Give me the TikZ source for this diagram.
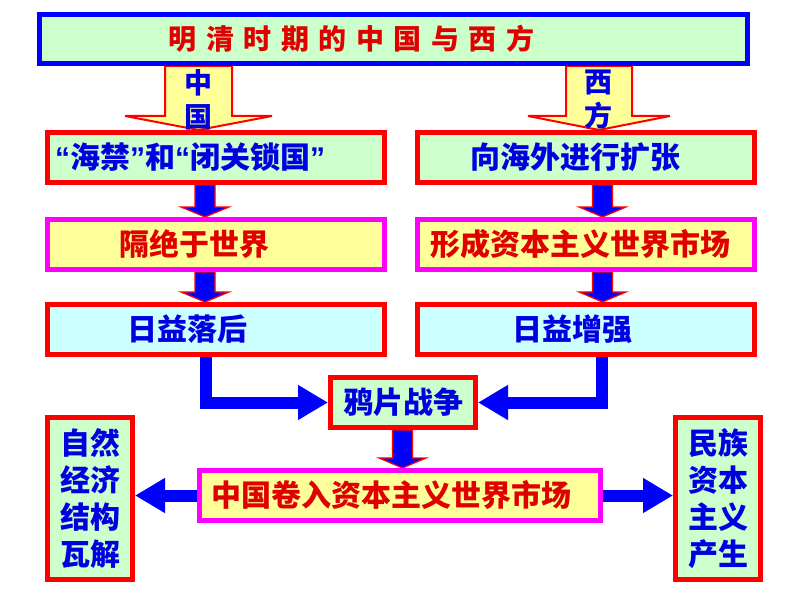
\documentclass[tikz,border=0pt]{standalone}
\usepackage{fontspec}
\newfontfamily\cjk{Noto Sans CJK SC}
\newfontfamily\lat{Liberation Sans}
\usetikzlibrary{arrows.meta,calc,backgrounds}
\definecolor{lgreen}{HTML}{CCFFCC}
\definecolor{lyellow}{HTML}{FFFF99}
\definecolor{lcyan}{HTML}{CCFFFF}
\definecolor{bred}{HTML}{FF0000}
\definecolor{bmag}{HTML}{FF00FF}
\definecolor{bblue}{HTML}{0000FF}
\definecolor{tblue}{HTML}{0000E0}
\definecolor{tred}{HTML}{E00000}
\newcommand\myoq{{\lat “}}
\newcommand\mycq{{\lat ”}}
% x, from node, to node, shaft half width, head half width, head length, style
\newcommand\blkdown[7]{%
  \draw[#7] let \p1=(#2.south), \p2=(#3.north) in
    (#1pt-#4pt,\y1) -- (#1pt+#4pt,\y1) -- (#1pt+#4pt,\y2+#6pt) -- (#1pt+#5pt,\y2+#6pt)
    -- (#1pt,\y2) -- (#1pt-#5pt,\y2+#6pt) -- (#1pt-#4pt,\y2+#6pt) -- cycle;}
\tikzset{
  box/.style={draw, line width=5pt, inner sep=0pt, font=\cjk\bfseries\fontsize{30}{36}\selectfont},
  gbox/.style={box, draw=bred, fill=lgreen, text=tblue},
  ybox/.style={box, draw=bmag, fill=lyellow, text=tred},
  cbox/.style={box, draw=bred, fill=lcyan, text=tblue},
  widebox/.style={minimum width=337pt, minimum height=50pt},
  tallbox/.style={minimum width=85pt, minimum height=162pt, align=center, font=\cjk\bfseries\fontsize{30}{37}\selectfont},
  titlebox/.style={draw=bblue, fill=lgreen, text=tred, line width=5pt, inner sep=0pt,
    minimum width=708pt, minimum height=49pt, font=\cjk\bfseries\fontsize{28}{34}\selectfont},
  yarrow/.style={draw=bred, fill=lyellow, line width=2pt, line join=miter},
  barrow/.style={draw=bred, fill=bblue, line width=1.2pt, line join=miter},
  flow/.style={draw=bblue, line width=12pt, line join=miter, -{Triangle[length=30pt,width=33pt]}},
  vlabel/.style={text=tblue, align=center, inner sep=0pt, font=\cjk\bfseries\fontsize{28}{34}\selectfont}
}
\begin{document}
\begin{tikzpicture}[x=1pt,y=-1pt]
\useasboundingbox (0,0) rectangle (794,596);
\begin{pgfonlayer}{background}
\fill[white] (0,0) rectangle (794,596);
\end{pgfonlayer}

\node[titlebox] (title) at (393.5,39) {明\hspace{9.5pt}清\hspace{9.5pt}时\hspace{9.5pt}期\hspace{9.5pt}的\hspace{9.5pt}中\hspace{9.5pt}国\hspace{9.5pt}与\hspace{9.5pt}西\hspace{9.5pt}方\hspace*{84pt}};

\node[gbox, widebox] (a1) at (216,157.5) {\myoq 海禁\mycq 和\myoq 闭关锁国\mycq\hspace*{52pt}};
\node[ybox, widebox] (a2) at (216,244.5) {隔绝于世界\hspace*{44pt}};
\node[cbox, widebox] (a3) at (216,329.5) {日益落后\hspace*{58pt}};

\node[gbox, widebox] (b1) at (586,157.5) {向海外进行扩张\hspace*{22pt}};
\node[ybox, widebox] (b2) at (586,244.5) {形成资本主义世界市场\hspace*{12pt}};
\node[cbox, widebox] (b3) at (586,329.5) {日益增强\hspace*{28pt}};

\node[gbox, minimum width=145pt, minimum height=50pt] (yp) at (403,402.5) {鸦片战争};
\node[ybox, minimum width=401pt, minimum height=50pt] (cj) at (400,495.5) {中国卷入资本主义世界市场\hspace*{17pt}};

\node[gbox, tallbox] (zr) at (90,498.5) {自然\\经济\\结构\\瓦解};
\node[gbox, tallbox] (mz) at (718,498.5) {民族\\资本\\主义\\产生};

\begin{pgfonlayer}{background}
\blkdown{198.5}{title}{a1}{33.5}{73.5}{14}{yarrow}
\blkdown{599}{title}{b1}{33}{71}{14}{yarrow}
\blkdown{205}{a1}{a2}{10}{24}{10}{barrow}
\blkdown{205}{a2}{a3}{10}{24}{10}{barrow}
\blkdown{602.5}{b1}{b2}{10}{23.5}{10}{barrow}
\blkdown{602.5}{b2}{b3}{10}{23.5}{10}{barrow}
\blkdown{402.5}{yp}{cj}{10}{23.5}{10}{barrow}
\draw[flow] ([xshift=-10pt]a3.south) |- (yp.west);
\draw[flow] ([xshift=16pt]b3.south) |- (yp.east);
\draw[flow] (cj.west) -- (cj.west -| zr.east);
\draw[flow] (cj.east) -- (cj.east -| mz.west);
\end{pgfonlayer}

\node[vlabel] (zg) at (198,100) {中\\国};
\node[vlabel] (xf) at (598,100) {西\\方};
\end{tikzpicture}
\end{document}
